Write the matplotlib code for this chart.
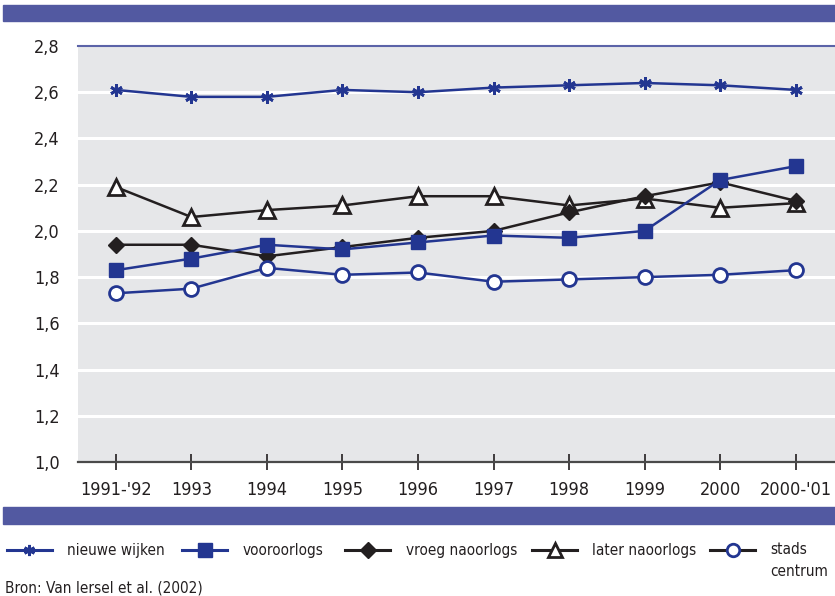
import matplotlib
matplotlib.use("Agg")
import matplotlib.pyplot as plt
from matplotlib.lines import Line2D
from matplotlib.patches import Rectangle
from matplotlib import font_manager

names = {f.name for f in font_manager.fontManager.ttflist}
cond = [f for f in font_manager.fontManager.ttflist if "DejaVu Sans" == f.name and f.stretch == "condensed"]
if "Liberation Sans Narrow" in names:
    FONT, STRETCH = "Liberation Sans Narrow", "normal"
elif cond:
    FONT, STRETCH = "DejaVu Sans", "condensed"
else:
    FONT, STRETCH = "Liberation Sans", "normal"
plt.rcParams['font.family'] = [FONT, 'DejaVu Sans']
plt.rcParams['font.stretch'] = STRETCH

categories = ["1991-'92", "1993", "1994", "1995", "1996", "1997", "1998", "1999", "2000", "2000-'01"]
nieuwe_wijken = [2.61, 2.58, 2.58, 2.61, 2.60, 2.62, 2.63, 2.64, 2.63, 2.61]
vooroorlogs = [1.83, 1.88, 1.94, 1.92, 1.95, 1.98, 1.97, 2.00, 2.22, 2.28]
vroeg_naoorlogs = [1.94, 1.94, 1.89, 1.93, 1.97, 2.00, 2.08, 2.15, 2.21, 2.13]
later_naoorlogs = [2.19, 2.06, 2.09, 2.11, 2.15, 2.15, 2.11, 2.14, 2.10, 2.12]
stads_centrum = [1.73, 1.75, 1.84, 1.81, 1.82, 1.78, 1.79, 1.80, 1.81, 1.83]
y_ticks = [1.0, 1.2, 1.4, 1.6, 1.8, 2.0, 2.2, 2.4, 2.6, 2.8]
y_labels = ["1,0", "1,2", "1,4", "1,6", "1,8", "2,0", "2,2", "2,4", "2,6", "2,8"]
legend_labels = ["nieuwe wijken", "vooroorlogs", "vroeg naoorlogs", "later naoorlogs", "stads\ncentrum"]
source = "Bron: Van Iersel et al. (2002)"

BLUE = "#233691"
BLACK = "#231f20"
BAND = "#5259a1"
GREY = "#e6e7e9"

W, H = 835, 596
fig = plt.figure(figsize=(W / 100, H / 100), dpi=100)

def fx(px):
    return px / W

def fy(py):
    return 1 - py / H

ax = fig.add_axes([fx(78), fy(462), fx(835) - fx(78), fy(46) - fy(462)])
ax.set_facecolor(GREY)
x = list(range(len(categories)))

for yv in y_ticks[1:-1]:
    ax.axhline(yv, color="white", lw=2.2, zorder=1)
ax.axhline(2.8, color="#5b63a8", lw=1.5, zorder=2, clip_on=False)

ax.plot(x, later_naoorlogs, color=BLACK, lw=1.8, marker="^", ms=11, mfc="white", mec=BLACK, mew=2, zorder=3)
ax.plot(x, vroeg_naoorlogs, color=BLACK, lw=1.8, marker="D", ms=8, mfc=BLACK, mec=BLACK, zorder=4)
ax.plot(x, vooroorlogs, color=BLUE, lw=1.8, marker="s", ms=10, mfc=BLUE, mec=BLUE, zorder=5)
ax.plot(x, stads_centrum, color=BLUE, lw=1.8, marker="o", ms=10, mfc="white", mec=BLUE, mew=2, zorder=6)
ax.plot(x, nieuwe_wijken, color=BLUE, lw=1.8, marker=(6, 2, 0), ms=9, mec=BLUE, mew=2, zorder=7)

FS = 13
ax.set_xlim(-0.5, 9.52)
ax.set_ylim(1.0, 2.8)
ax.set_xticks(x)
ax.set_xticklabels(categories, fontsize=FS, color=BLACK)
ax.set_yticks(y_ticks)
ax.set_yticklabels(y_labels, fontsize=FS, color=BLACK)
ax.tick_params(axis="y", length=0, pad=13)
ax.tick_params(axis="x", direction="inout", length=11, width=1.2, color=BLACK, pad=8)
for s in ["top", "right", "left"]:
    ax.spines[s].set_visible(False)
ax.spines["bottom"].set_color("#4a4a4a")
ax.spines["bottom"].set_linewidth(1.6)

# bands
fig.patches.append(Rectangle((fx(3), fy(21)), fx(835) - fx(3), fy(5) - fy(21), transform=fig.transFigure, color=BAND))
fig.patches.append(Rectangle((fx(3), fy(524)), fx(835) - fx(3), fy(507) - fy(524), transform=fig.transFigure, color=BAND))

# legend
leg_y = fy(550)
handles = [
    (7, 52, BLUE, dict(marker=(6, 2, 0), ms=8, mec=BLUE, mew=2)),
    (182, 227, BLUE, dict(marker="s", ms=10, mfc=BLUE, mec=BLUE)),
    (345, 390, BLACK, dict(marker="D", ms=8, mfc=BLACK, mec=BLACK)),
    (532, 577, BLACK, dict(marker="^", ms=10, mfc="white", mec=BLACK, mew=2)),
    (710, 755, BLACK, dict(marker="o", ms=9, mfc="white", mec=BLUE, mew=2)),
]
text_x = [67, 243, 406, 592, 770]
LFS = 11
for (x0, x1, c, kw), tx, lab in zip(handles, text_x, legend_labels):
    fig.add_artist(Line2D([fx(x0), fx(x1)], [leg_y, leg_y], color=c, lw=2.2, transform=fig.transFigure))
    fig.add_artist(Line2D([fx((x0 + x1) / 2)], [leg_y], color=c, transform=fig.transFigure, **kw))
    lines = lab.split("\n")
    for i, ln in enumerate(lines):
        fig.text(fx(tx), fy(550 + 22 * i), ln, fontsize=LFS, color=BLACK, ha="left", va="center")

fig.text(fx(5), fy(588), source, fontsize=11, color=BLACK, ha="left", va="center")

fig.savefig("out.png", dpi=100)
